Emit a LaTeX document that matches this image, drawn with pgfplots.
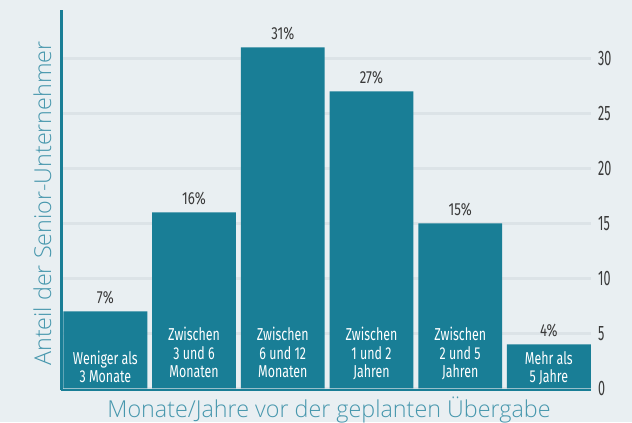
\documentclass[border=0pt]{standalone}
\usepackage{fontspec}
\usepackage{pgfplots}
\pgfplotsset{compat=1.18}
\setmainfont{Fira Sans}
\newfontfamily\condfont{Fira Sans}[FakeStretch=0.72]
\newfontfamily\pctfont{Fira Sans}[FakeStretch=0.76]
\newfontfamily\tickfont{Fira Sans}[FakeStretch=0.6]
\IfFontExistsTF{Open Sans Light}{\newfontfamily\lightfont{Open Sans Light}}{%
  \IfFontExistsTF{Lato Light}{\newfontfamily\lightfont{Lato Light}}{\newfontfamily\lightfont{Open Sans}}}
\definecolor{bg}{HTML}{E9EFF2}
\definecolor{barc}{HTML}{197E96}
\definecolor{gridc}{HTML}{DCE3E7}
\definecolor{lab}{HTML}{4797AD}
\definecolor{txt}{HTML}{3A3A3A}
\newcommand{\bl}[3]{\node[anchor=base, inner sep=0, text=white, font=\condfont\fontsize{17.3}{17.3}\selectfont] at (axis cs:#1,#2) {#3};}
\begin{document}
\begin{tikzpicture}[x=1bp,y=1bp]
\fill[bg] (0,0) rectangle (632,422);
\begin{axis}[
  at={(61bp,32bp)}, anchor=south west,
  scale only axis, width=530bp, height=380bp,
  xmin=-0.5, xmax=5.475, ymin=-0.15, ymax=34.4,
  ybar, bar width=0.945, bar shift=0pt,
  axis x line*=bottom, axis y line*=right,
  x axis line style={barc, line width=1.3bp, -},
  y axis line style={draw=none},
  xtick=\empty,
  ytick={0,5,10,15,20,25,30},
  major tick length=0pt,
  yticklabel pos=right,
  /pgf/number format/assume math mode=true,
  yticklabel style={anchor=west, inner sep=0pt, xshift=7bp, text=txt, font=\tickfont\fontsize{21}{21}\selectfont},
  ymajorgrids, grid style={gridc, line width=2.7bp},
  nodes near coords={\pgfmathprintnumber{\pgfplotspointmeta}\%},
  every node near coord/.append style={anchor=base, inner sep=0pt, yshift=8.3bp, text=txt, font=\pctfont\fontsize{17.5}{17.5}\selectfont},
  clip=false,
]
\addplot[fill=barc, draw=none] coordinates {(0,7) (1,16) (2,31) (3,27) (4,15) (5,4)};
\draw[barc, line width=3bp] (rel axis cs:0,0) -- (rel axis cs:0,1);
\bl{0}{2.21}{Weniger als}
\bl{0}{0.55}{3 Monate}
\bl{1}{4.33}{Zwischen}
\bl{1}{2.66}{3 und 6}
\bl{1}{0.96}{Monaten}
\bl{2}{4.33}{Zwischen}
\bl{2}{2.66}{6 und 12}
\bl{2}{0.96}{Monaten}
\bl{3}{4.33}{Zwischen}
\bl{3}{2.66}{1 und 2}
\bl{3}{0.96}{Jahren}
\bl{4}{4.33}{Zwischen}
\bl{4}{2.66}{2 und 5}
\bl{4}{0.96}{Jahren}
\bl{5}{2.21}{Mehr als}
\bl{5}{0.55}{5 Jahre}
\end{axis}
\node[anchor=base, inner sep=0, text=lab, font=\lightfont\fontsize{23.4}{23.4}\selectfont] at (329,4.7) {Monate/Jahre vor der geplanten Übergabe};
\node[anchor=base, rotate=90, inner sep=0, text=lab, font=\lightfont\fontsize{23.4}{23.4}\selectfont] at (51,218.5) {Anteil der Senior-Unternehmer};
\pgfresetboundingbox
\path (0,0) rectangle (632,422);
\end{tikzpicture}
\end{document}
